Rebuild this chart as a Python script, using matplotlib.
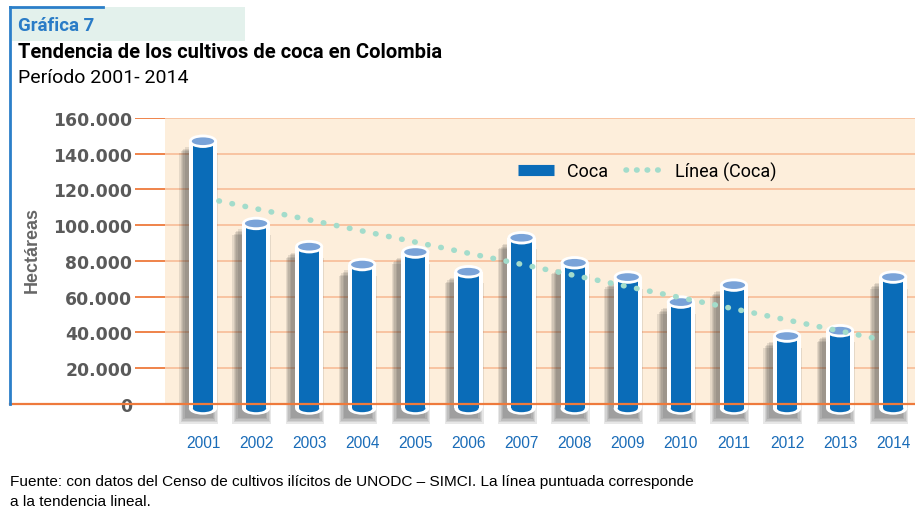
import matplotlib
matplotlib.use("Agg")
import matplotlib.pyplot as plt
from matplotlib.lines import Line2D
from matplotlib.patches import Ellipse, Rectangle
import numpy as np

# data
years = ["2001", "2002", "2003", "2004", "2005", "2006", "2007",
         "2008", "2009", "2010", "2011", "2012", "2013", "2014"]
coca = [147000, 101000, 88000, 78000, 85000, 74000, 93000,
        79000, 71000, 57000, 66500, 38000, 41000, 71000]
trend_years = [2001.3, 2013.8]
trend_values = [113600, 35800]
yticks = [0, 20000, 40000, 60000, 80000, 100000, 120000, 140000, 160000]

BLUE = "#0a6cb8"
LIGHT_BLUE = "#7aa3d8"
PEACH = "#fdeedb"
GRID_LIGHT = "#f8c09c"
GRID_DARK = "#ee7a3c"
TREND = "#a3dccb"
FRAME_BLUE = "#2b7fc9"

W, H = 915, 510

fig = plt.figure(figsize=(W / 100, H / 100), dpi=100)


def fx(px):
    return px / W


def fy(px):
    return 1 - px / H


# header decoration
fig.add_artist(Rectangle((fx(12), fy(42)), fx(245 - 12), (42 - 8) / H,
                         transform=fig.transFigure, color="#e3f1ec", lw=0, zorder=0))
fig.add_artist(Line2D([fx(10), fx(10)], [fy(8), fy(405)], color=FRAME_BLUE, lw=2))
fig.add_artist(Line2D([fx(10), fx(103)], [fy(8), fy(8)], color=FRAME_BLUE, lw=2))
fig.text(fx(18), fy(26), "Gráfica 7", family="Roboto", weight="bold", fontsize=13.5,
         color="#2a7cc7", va="center")
fig.text(fx(18), fy(53), "Tendencia de los cultivos de coca en Colombia", family="Roboto",
         weight="bold", fontsize=14.5, color="black", va="center")
fig.text(fx(18), fy(78), "Período 2001- 2014", family="Roboto", fontsize=14,
         color="black", va="center")

ax = fig.add_axes([fx(135), 1 - 430 / H, 1 - fx(135), (430 - 119) / H])
x = np.arange(len(years))
ax.set_xlim(-1.28, 13.41)
ax.set_ylim(-14000, 160000)
for s in ax.spines.values():
    s.set_visible(False)

# background and grid
ax.add_patch(Rectangle((-0.716, 0), 13.41 + 0.716, 160000, color=PEACH, lw=0, zorder=0.1))
ax.hlines(yticks[1:], -0.716, 13.41, color=GRID_LIGHT, lw=1.3, zorder=0.3)
ax.hlines(yticks[1:], -1.28, -0.716, color=GRID_DARK, lw=1.3, zorder=0.3)
fig.add_artist(Line2D([fx(10), 1], [fy(405), fy(405)], color=GRID_DARK, lw=1.6, zorder=1))

ax.set_yticks(yticks)
ax.set_yticklabels([f"{v:,}".replace(",", ".") for v in yticks], family="DejaVu Sans",
                   weight="bold", fontsize=12.4, color="#5a5a5a")
ax.tick_params(axis="y", length=0, pad=2)
ax.set_xticks(x)
ax.set_xticklabels(years, family="Liberation Sans", fontsize=11.2, color="#1a6cb8")
ax.tick_params(axis="x", length=0, pad=4)

fig.text(fx(32), fy(250), "Hectáreas", rotation=90, family="Liberation Sans",
         weight="bold", fontsize=13, color="#666666", ha="center", va="center")

# cylinders
base = -2500
w_out, w_in = 0.53, 0.38
vals = np.array(coca)
for k in range(5):
    ax.bar(x - 0.08, vals - base + 2000, bottom=base - 8500 + 800 * k,
           width=w_out + 0.05 * (4 - k), color="#2a2a2a", alpha=0.11, lw=0, zorder=2)
ax.bar(x, vals - base, bottom=base, width=w_out, color="white", lw=0, zorder=3)
ax.bar(x, vals - base, bottom=base, width=w_in, color=BLUE, lw=0, zorder=4)
for xi, v in zip(x, vals):
    ax.add_patch(Ellipse((xi, base), w_out, 7000, color="white", lw=0, zorder=3))
    ax.add_patch(Ellipse((xi, base), w_in, 4200, color=BLUE, lw=0, zorder=4))
    ax.add_patch(Ellipse((xi, v), w_out, 7500, color="white", lw=0, zorder=5))
    ax.add_patch(Ellipse((xi, v), w_in + 0.04, 4300, color=LIGHT_BLUE, lw=0, zorder=6))

# linear trend
tx = np.array(trend_years) - int(years[0])
ax.plot(tx, trend_values, color=TREND, lw=4.0, linestyle=(0, (0.1, 2.3)),
        dash_capstyle="round", zorder=7)

handles = [Line2D([], [], color=BLUE, lw=8, solid_capstyle="butt"),
           Line2D([], [], color=TREND, lw=4.0, linestyle=(0, (0.1, 1.8)),
                  dash_capstyle="round")]
fig.legend(handles, ["Coca", "Línea (Coca)"], loc="center",
           bbox_to_anchor=(fx(647), fy(172)), ncol=2, frameon=False,
           prop={"family": "Roboto", "size": 13}, handlelength=2.0,
           handletextpad=0.7, columnspacing=1.0)

fig.text(fx(10), fy(482), "Fuente: con datos del Censo de cultivos ilícitos de UNODC – SIMCI. "
         "La línea puntuada corresponde", family="Liberation Sans", fontsize=11.1, va="center")
fig.text(fx(10), fy(502), "a la tendencia lineal.", family="Liberation Sans", fontsize=11.1,
         va="center")

fig.savefig("out.png", dpi=100)
